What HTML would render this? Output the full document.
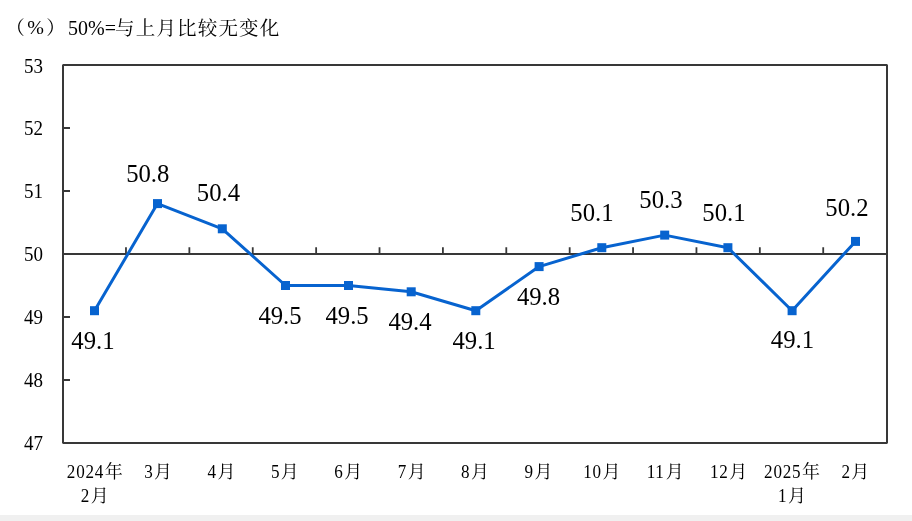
<!DOCTYPE html>
<html><head><meta charset="utf-8"><title>PMI</title>
<style>
html,body{margin:0;padding:0;background:#fff;}
body{width:912px;height:521px;overflow:hidden;font-family:"Liberation Serif",serif;}
svg{display:block;will-change:transform;font-family:"Liberation Serif","Noto Serif CJK SC",serif;}
</style></head><body>
<svg width="912" height="521" viewBox="0 0 912 521" role="img" aria-label="（%）50%=与上月比较无变化">
<desc>（%）50%=与上月比较无变化。2024年2月 49.1，3月 50.8，4月 50.4，5月 49.5，6月 49.5，7月 49.4，8月 49.1，9月 49.8，10月 50.1，11月 50.3，12月 50.1，2025年1月 49.1，2月 50.2</desc>
<rect x="0" y="0" width="912" height="521" fill="#fff"/>
<rect x="0" y="515" width="912" height="6" fill="#f0f0f0"/>
<g stroke="#383838" fill="none">
<rect x="63" y="65" width="824" height="378" stroke-width="2" stroke-linejoin="bevel"/>
<line x1="63" y1="254" x2="887" y2="254" stroke-width="1.8"/>
<path d="M125.98 254V247.2M189.37 254V247.2M252.75 254V247.2M316.14 254V247.2M379.52 254V247.2M442.91 254V247.2M506.29 254V247.2M569.68 254V247.2M633.06 254V247.2M696.45 254V247.2M759.83 254V247.2M823.22 254V247.2M63 128.00H70M63 191.00H70M63 317.00H70M63 380.00H70" stroke-width="1.8"/>
</g>
<polyline points="94.50,310.70 157.50,203.60 222.30,228.80 285.50,285.50 348.50,285.50 411.20,291.80 475.80,310.70 539.10,266.60 601.80,247.70 664.70,235.10 727.90,247.70 792.10,310.70 855.50,241.40" fill="none" stroke="#0763cf" stroke-width="3" stroke-linejoin="round"/>
<rect x="90.00" y="306.20" width="9" height="9" fill="#0763cf"/>
<rect x="153.00" y="199.10" width="9" height="9" fill="#0763cf"/>
<rect x="217.80" y="224.30" width="9" height="9" fill="#0763cf"/>
<rect x="281.00" y="281.00" width="9" height="9" fill="#0763cf"/>
<rect x="344.00" y="281.00" width="9" height="9" fill="#0763cf"/>
<rect x="406.70" y="287.30" width="9" height="9" fill="#0763cf"/>
<rect x="471.30" y="306.20" width="9" height="9" fill="#0763cf"/>
<rect x="534.60" y="262.10" width="9" height="9" fill="#0763cf"/>
<rect x="597.30" y="243.20" width="9" height="9" fill="#0763cf"/>
<rect x="660.20" y="230.60" width="9" height="9" fill="#0763cf"/>
<rect x="723.40" y="243.20" width="9" height="9" fill="#0763cf"/>
<rect x="787.60" y="306.20" width="9" height="9" fill="#0763cf"/>
<rect x="851.00" y="236.90" width="9" height="9" fill="#0763cf"/>
<g font-size="20" text-anchor="end" fill="#000">
<text transform="translate(43.0,72.90) scale(0.95,1)">53</text>
<text transform="translate(43.0,135.00) scale(0.95,1)">52</text>
<text transform="translate(43.0,198.00) scale(0.95,1)">51</text>
<text transform="translate(43.0,261.00) scale(0.95,1)">50</text>
<text transform="translate(43.0,324.00) scale(0.95,1)">49</text>
<text transform="translate(43.0,387.00) scale(0.95,1)">48</text>
<text transform="translate(43.0,450.00) scale(0.95,1)">47</text>
</g>
<g font-size="24" text-anchor="middle" fill="#000">
<text transform="translate(92.9,349.2) scale(1.03,1.05)">49.1</text>
<text transform="translate(147.75,182.4) scale(1.03,1.05)">50.8</text>
<text transform="translate(218.4,201.4) scale(1.03,1.05)">50.4</text>
<text transform="translate(280,323.6) scale(1.03,1.05)">49.5</text>
<text transform="translate(347.1,323.6) scale(1.03,1.05)">49.5</text>
<text transform="translate(410,329.9) scale(1.03,1.05)">49.4</text>
<text transform="translate(474.1,349.2) scale(1.03,1.05)">49.1</text>
<text transform="translate(538.5,304.9) scale(1.03,1.05)">49.8</text>
<text transform="translate(591.9,221) scale(1.03,1.05)">50.1</text>
<text transform="translate(660.9,207.9) scale(1.03,1.05)">50.3</text>
<text transform="translate(723.9,220.6) scale(1.03,1.05)">50.1</text>
<text transform="translate(792.4,348.1) scale(1.03,1.05)">49.1</text>
<text transform="translate(846.9,215.5) scale(1.03,1.05)">50.2</text>
</g>
<g fill="#000">
<text transform="translate(66.86,478.20) scale(1,1.1413)" font-size="17.11" letter-spacing="0.74">2024</text><text x="104.66" y="477.9" font-size="18">年</text>
<text transform="translate(144.20,478.20) scale(1,1.1413)" font-size="17.11" letter-spacing="0.74">3</text><text x="154.10" y="477.9" font-size="18">月</text>
<text transform="translate(207.58,478.20) scale(1,1.1413)" font-size="17.11" letter-spacing="0.74">4</text><text x="217.48" y="477.9" font-size="18">月</text>
<text transform="translate(270.97,478.20) scale(1,1.1413)" font-size="17.11" letter-spacing="0.74">5</text><text x="280.87" y="477.9" font-size="18">月</text>
<text transform="translate(334.35,478.20) scale(1,1.1413)" font-size="17.11" letter-spacing="0.74">6</text><text x="344.25" y="477.9" font-size="18">月</text>
<text transform="translate(397.74,478.20) scale(1,1.1413)" font-size="17.11" letter-spacing="0.74">7</text><text x="407.64" y="477.9" font-size="18">月</text>
<text transform="translate(461.12,478.20) scale(1,1.1413)" font-size="17.11" letter-spacing="0.74">8</text><text x="471.02" y="477.9" font-size="18">月</text>
<text transform="translate(524.51,478.20) scale(1,1.1413)" font-size="17.11" letter-spacing="0.74">9</text><text x="534.41" y="477.9" font-size="18">月</text>
<text transform="translate(583.24,478.20) scale(1,1.1413)" font-size="17.11" letter-spacing="0.74">10</text><text x="602.44" y="477.9" font-size="18">月</text>
<text transform="translate(646.63,478.20) scale(1,1.1413)" font-size="17.11" letter-spacing="0.74">11</text><text x="665.83" y="477.9" font-size="18">月</text>
<text transform="translate(710.01,478.20) scale(1,1.1413)" font-size="17.11" letter-spacing="0.74">12</text><text x="729.21" y="477.9" font-size="18">月</text>
<text transform="translate(764.10,478.20) scale(1,1.1413)" font-size="17.11" letter-spacing="0.74">2025</text><text x="801.90" y="477.9" font-size="18">年</text>
<text transform="translate(841.43,478.20) scale(1,1.1413)" font-size="17.11" letter-spacing="0.74">2</text><text x="851.33" y="477.9" font-size="18">月</text>
<text transform="translate(80.81,502.40) scale(1,1.1413)" font-size="17.11" letter-spacing="0.74">2</text><text x="90.71" y="502.1" font-size="18">月</text>
<text transform="translate(778.05,502.40) scale(1,1.1413)" font-size="17.11" letter-spacing="0.74">1</text><text x="787.95" y="502.1" font-size="18">月</text>
</g>
<g fill="#000">
<text x="5.7" y="35.1" font-size="19">（</text>
<text transform="translate(27.2,33.6) scale(1,0.89)" font-size="20">%</text>
<text x="46.2" y="35.1" font-size="19">）</text>
<text x="68.0" y="34.7" font-size="20">50%=</text>
<text x="115.1" y="35.4" font-size="19.5" letter-spacing="1.17">与上月比较无变化</text>
</g>
</svg>
</body></html>
